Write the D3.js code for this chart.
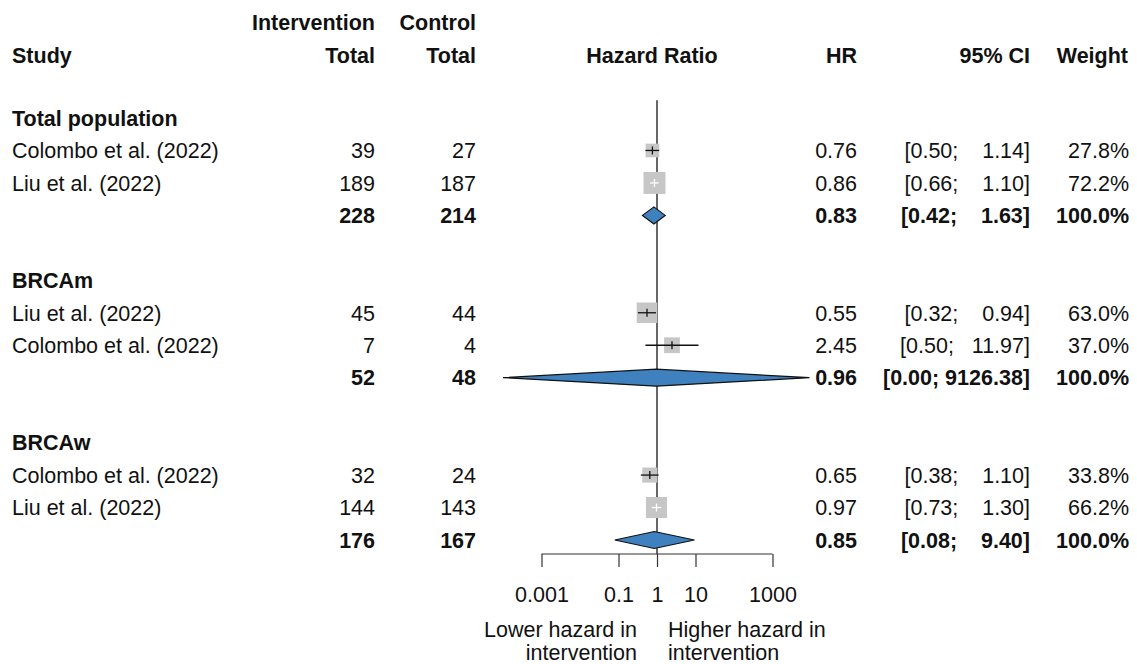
<!DOCTYPE html>
<html>
<head>
<meta charset="utf-8">
<script src="https://cdn.jsdelivr.net/npm/d3@7"></script>
<style>
  body { margin: 0; background: #fff; }
  svg { font-family: "Liberation Sans", Arial, sans-serif; }
</style>
</head>
<body>
<svg></svg>
<script>
const width = 1137;
const height = 664;

// data
const groupNames = ['Total population', 'BRCAm', 'BRCAw'];
const studyNames = ['Colombo et al. (2022)', 'Liu et al. (2022)', 'Liu et al. (2022)', 'Colombo et al. (2022)', 'Colombo et al. (2022)', 'Liu et al. (2022)'];
const studyGroup = [0, 0, 1, 1, 2, 2];
const nInt = [39, 189, 45, 7, 32, 144];
const nCtl = [27, 187, 44, 4, 24, 143];
const hr = [0.76, 0.86, 0.55, 2.45, 0.65, 0.97];
const lower = [0.50, 0.66, 0.32, 0.50, 0.38, 0.73];
const upper = [1.14, 1.10, 0.94, 11.97, 1.10, 1.30];
const weight = [27.8, 72.2, 63.0, 37.0, 33.8, 66.2];

const poolInt = [228, 52, 176];
const poolCtl = [214, 48, 167];
const poolHr = [0.83, 0.96, 0.85];
const poolLower = [0.42, 0.0001, 0.08];
const poolUpper = [1.63, 9126.38, 9.40];

const tickValues = [0.001, 0.1, 1, 10, 1000];

const fontSize = 21.5;
const col = {
    study: 12, int: 375, ctl: 476, hr: 857, ci: 1030, weight: 1129
};

const svg = d3.select('svg')
    .attr('width', width)
    .attr('height', height)
    .style('font-size', fontSize + 'px');

// build row list
const rows = [];
groupNames.forEach((g, gi) => {
    rows.push({ type: 'group', name: g });
    studyNames.forEach((s, i) => {
        if (studyGroup[i] === gi) rows.push({ type: 'study', i });
    });
    rows.push({ type: 'pool', gi });
    if (gi < groupNames.length - 1) rows.push({ type: 'blank' });
});

const y = d3.scaleLinear().domain([0, rows.length - 1]).range([118, 540]);
const x = d3.scaleLog().domain([0.001, 1000]).range([541.5, 772.5]);
const side = d3.scaleSqrt().domain([0, 100]).range([0, 25.9]);

const fmt2 = d3.format('.2f');
const fmtW = d => d.toFixed(1) + '%';

// CI strings padded like R's formatCI (space padded upper bound)
const upWidth = d3.max(upper.concat(poolUpper), d => fmt2(d).length);
const nb = '\u00A0';
const ciText = (lo, hi) => '[' + fmt2(lo) + ';' + nb + fmt2(hi).padStart(upWidth, nb) + ']';

function txt(xp, yp, s, anchor, bold) {
    svg.append('text')
        .attr('x', xp)
        .attr('y', yp)
        .attr('dy', '0.36em')
        .attr('text-anchor', anchor)
        .attr('font-weight', bold ? 'bold' : 'normal')
        .attr('fill', '#111')
        .text(s);
}

// headers
const h1 = 22, h2 = 55;
txt(col.int, h1, 'Intervention', 'end', true);
txt(col.ctl, h1, 'Control', 'end', true);
txt(col.study, h2, 'Study', 'start', true);
txt(col.int, h2, 'Total', 'end', true);
txt(col.ctl, h2, 'Total', 'end', true);
txt(x(1) - 5, h2, 'Hazard Ratio', 'middle', true);
txt(col.hr, h2, 'HR', 'end', true);
txt(col.ci, h2, '95% CI', 'end', true);
txt(col.weight - 1, h2, 'Weight', 'end', true);

// reference line at HR = 1
const axisY = 554;
svg.append('line')
    .attr('x1', x(1)).attr('x2', x(1))
    .attr('y1', y(-0.55)).attr('y2', axisY)
    .attr('stroke', '#333')
    .attr('stroke-width', 1.5);

rows.forEach((r, ri) => {
    const yy = y(ri);
    if (r.type === 'group') {
        txt(col.study, yy, r.name, 'start', true);
    } else if (r.type === 'study') {
        const i = r.i;
        txt(col.study, yy, studyNames[i], 'start', false);
        txt(col.int, yy, nInt[i], 'end', false);
        txt(col.ctl, yy, nCtl[i], 'end', false);
        txt(col.hr, yy, fmt2(hr[i]), 'end', false);
        txt(col.ci, yy, ciText(lower[i], upper[i]), 'end', false);
        txt(col.weight, yy, fmtW(weight[i]), 'end', false);

        const s = side(weight[i]);
        svg.append('rect')
            .attr('x', x(hr[i]) - s / 2)
            .attr('y', yy - s / 2)
            .attr('width', s)
            .attr('height', s)
            .attr('fill', '#c6c6c6');
        const ciW = x(upper[i]) - x(lower[i]);
        const inside = ciW < 0.6 * s;
        const lineCol = inside ? '#fff' : '#111';
        svg.append('line')
            .attr('x1', x(lower[i])).attr('x2', x(upper[i]))
            .attr('y1', yy).attr('y2', yy)
            .attr('stroke', lineCol).attr('stroke-width', 1.3);
        svg.append('line')
            .attr('x1', x(hr[i])).attr('x2', x(hr[i]))
            .attr('y1', yy - 4).attr('y2', yy + 4)
            .attr('stroke', lineCol).attr('stroke-width', 1.3);
    } else if (r.type === 'pool') {
        const g = r.gi;
        txt(col.int, yy, poolInt[g], 'end', true);
        txt(col.ctl, yy, poolCtl[g], 'end', true);
        txt(col.hr, yy, fmt2(poolHr[g]), 'end', true);
        txt(col.ci, yy, ciText(poolLower[g], poolUpper[g]), 'end', true);
        txt(col.weight, yy, '100.0%', 'end', true);

        const hh = 8.5;
        const pts = [
            [x(poolLower[g]), yy],
            [x(poolHr[g]), yy - hh],
            [x(poolUpper[g]), yy],
            [x(poolHr[g]), yy + hh]
        ];
        svg.append('path')
            .attr('d', d3.line()(pts) + 'Z')
            .attr('fill', '#3f80bf')
            .attr('stroke', '#111')
            .attr('stroke-width', 1.2);
    }
});

// axis
const axis = d3.axisBottom(x)
    .tickValues(tickValues)
    .tickFormat(d => String(d))
    .tickSize(13)
    .tickPadding(20);

const axG = svg.append('g')
    .attr('transform', `translate(0,${axisY})`)
    .call(axis);
axG.select('.domain').attr('stroke', '#333').attr('stroke-width', 1.2)
    .attr('d', `M${x(0.001)},0H${x(1000)}`);
axG.selectAll('.tick line').attr('stroke', '#333').attr('stroke-width', 1.2);
axG.selectAll('.tick text')
    .attr('font-size', fontSize)
    .attr('font-family', '"Liberation Sans", Arial, sans-serif')
    .attr('fill', '#111');

// direction labels
txt(x(1) - 20, 629, 'Lower hazard in', 'end', false);
txt(x(1) - 20, 652, 'intervention', 'end', false);
txt(x(1) + 11, 629, 'Higher hazard in', 'start', false);
txt(x(1) + 11, 652, 'intervention', 'start', false);
</script>
</body>
</html>
